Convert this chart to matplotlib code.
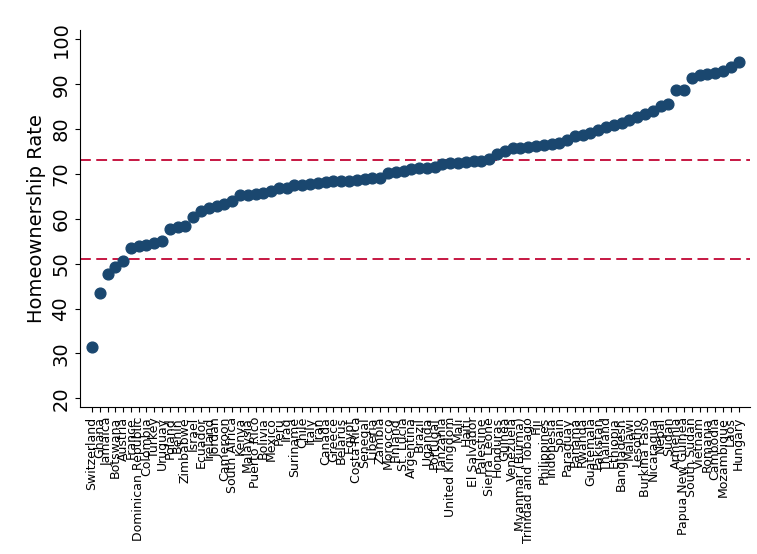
import matplotlib.pyplot as plt

countries = ["Switzerland", "Ghana", "Jamaica", "Botswana", "Austria", "France", "Dominican Republic",
             "Colombia", "Turkey", "Uruguay", "Poland", "Benin", "Zimbabwe", "Israel", "Ecuador", "Ireland",
             "Jordan", "Cameroon", "South Africa", "Kenya", "Malaysia", "Puerto Rico", "Bolivia", "Mexico",
             "Peru", "Iraq", "Suriname", "Chile", "Italy", "Iran", "Canada", "Greece", "Belarus", "Egypt",
             "Costa Rica", "Senegal", "Liberia", "Zambia", "Morocco", "Finland", "St. Lucia", "Argentina",
             "Brazil", "Uganda", "Portugal", "Tanzania", "United Kingdom", "Mali", "Haiti", "El Salvador",
             "Palestine", "Sierra Leone", "Honduras", "Guinea", "Venezuela", "Myanmar (Burma)",
             "Trinidad and Tobago", "Fiji", "Philippines", "Indonesia", "Spain", "Paraguay", "Panama",
             "Rwanda", "Guatemala", "Pakistan", "Thailand", "Ethiopia", "Bangladesh", "Malawi", "Lesotho",
             "Burkina Faso", "Nicaragua", "Nepal", "Sudan", "Armenia", "Papua New Guinea", "South Sudan",
             "Vietnam", "Romania", "Cambodia", "Mozambique", "Laos", "Hungary"]
rates = [31.5, 43.5, 47.8, 49.2, 50.5, 53.5, 54.0, 54.2, 54.5, 55.0, 57.8, 58.2, 58.3, 60.5, 61.8, 62.5,
         62.8, 63.2, 64.0, 65.3, 65.4, 65.5, 65.8, 66.3, 66.8, 66.9, 67.5, 67.6, 67.8, 68.0, 68.2, 68.4,
         68.5, 68.5, 68.6, 68.8, 69.0, 69.2, 70.2, 70.4, 70.7, 71.2, 71.3, 71.4, 71.6, 72.2, 72.4, 72.5,
         72.6, 72.8, 73.0, 73.3, 74.5, 75.2, 75.7, 75.9, 76.0, 76.2, 76.4, 76.6, 77.0, 77.5, 78.5, 78.7,
         79.2, 79.8, 80.5, 80.9, 81.4, 82.0, 82.8, 83.4, 84.0, 85.2, 85.5, 88.7, 88.8, 91.3, 92.1, 92.3,
         92.6, 92.9, 93.8, 95.0]
ref_lines = [73.2, 51.0]

fig = plt.figure(figsize=(7.57, 5.54), dpi=100)
ax = fig.add_axes([0.106, 0.265, 0.885, 0.68])
x = list(range(len(countries)))
ax.scatter(x, rates, s=60, color="#1a476f", zorder=3)
for v in ref_lines:
    ax.axhline(v, color="#c10534", linestyle=(0, (6, 3)), linewidth=1.3)
ax.set_xlim(-1.5, len(countries) + 0.5)
ax.set_ylim(18, 102)
ax.set_yticks(range(20, 101, 10))
ax.tick_params(axis="y", labelsize=14, rotation=90)
ax.set_xticks(x)
ax.set_xticklabels(countries, rotation=90, fontsize=9)
ax.set_ylabel("Homeownership Rate", fontsize=14)
for s in ["top", "right"]:
    ax.spines[s].set_visible(False)
for lbl in ax.get_yticklabels():
    lbl.set_va("center")
fig.savefig("out.png")
